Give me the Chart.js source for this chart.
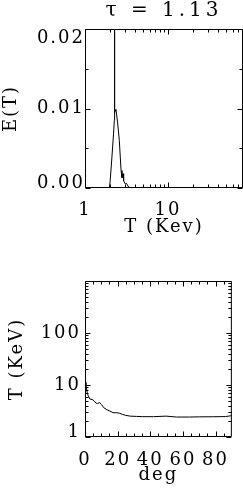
<!DOCTYPE html>
<html><head><meta charset="utf-8">
<script src="https://cdn.jsdelivr.net/npm/chart.js@4/dist/chart.umd.min.js"></script>
<style>
html,body{margin:0;padding:0;background:#fff;width:243px;height:495px;overflow:hidden}
canvas{position:absolute;left:0}
#c1{top:0}
#c2{top:248px}
</style></head>
<body>
<canvas id="c1" width="243" height="248"></canvas>
<canvas id="c2" width="243" height="247"></canvas>
<script>
// ---- top panel: E(T) vs T (keV), tau = 1.13 ----
const titleTop = 'τ = 1.13';
const energyT = [1, 1.97, 2.01, 2.11, 2.21, 2.255, 2.265, 2.28, 2.36, 2.47, 2.59, 2.66, 2.72, 2.79, 2.87, 2.92, 3.06, 3.15, 3.36, 3.72, 5, 80];
const energyE = [0, 0, 0.0009, 0.0039, 0.0069, 0.0085, 0.1, 0.0095, 0.0099, 0.0082, 0.006, 0.0039, 0.0022, 0.0013, 0.0018, 0.0009, 0.0005, 0.0006, 0.0001, 0.00003, 0, 0];
const topXMajor = [1, 10];
const topXMinor = [2,3,4,5,6,7,8,9,20,30,40,50,60,70];
const topYMajor = [0, 0.01, 0.02];
const topYMinor = [0.005, 0.015];

// ---- bottom panel: T (keV) vs deg ----
const angleDeg = [0, 0.6, 1.3, 1.9, 2.9, 4.8, 5.7, 6.7, 7.6, 9, 10.1, 11.5, 13.4, 15.3, 17.2, 19.1, 21, 23, 24.9, 27.7, 31.5, 35.4, 42, 49.7, 56, 64, 70, 78, 86, 89, 90];
const tempKeV = [11.3, 9.8, 7.3, 6.3, 5.4, 5.2, 4.9, 4.5, 4.4, 4.6, 4.2, 3.66, 3.35, 3.15, 2.93, 2.93, 2.88, 2.72, 2.61, 2.52, 2.49, 2.46, 2.46, 2.52, 2.42, 2.42, 2.44, 2.45, 2.47, 2.55, 2.6];
const botXMajor = [0, 20, 40, 60, 80];
const botXMinor = [5,10,15,25,30,35,45,50,55,65,70,75,85];
const botYMajor = [1, 10, 100, 1000];
const botYLabels = [1, 10, 100];
const botYMinor = [2,3,4,5,6,7,8,9,20,30,40,50,60,70,80,90,200,300,400,500,600,700,800,900];

const FONT = 'DejaVu Serif';
const LS = '2px';

const spacing = {
  id: 'spacing',
  afterInit(c){
    const tb = c.titleBlock;
    if (tb) {
      const orig = tb.draw.bind(tb);
      tb.draw = function(){ c.ctx.letterSpacing = '4px'; orig(); c.ctx.letterSpacing = LS; };
    }
  },
  beforeUpdate(c){ c.ctx.letterSpacing = LS; },
  beforeLayout(c){ c.ctx.letterSpacing = LS; },
  beforeDraw(c){ c.ctx.letterSpacing = LS; }
};

const frame = {
  id: 'frame',
  afterDatasetsDraw(chart, args, o){
    const {ctx, chartArea:a, scales:{x, y}} = chart;
    ctx.save();
    ctx.letterSpacing = '0px';
    ctx.strokeStyle = '#000';
    ctx.lineWidth = 1;
    const L = a.left + 0.5, R = a.right - 0.5, T = a.top + 0.5, B = a.bottom - 0.5;
    ctx.beginPath();
    ctx.rect(L, T, R - L, B - T);
    const xt = (vals, len) => vals.forEach(v => {
      const p = Math.round(x.getPixelForValue(v)) + 0.5;
      ctx.moveTo(p, B); ctx.lineTo(p, B - len);
      ctx.moveTo(p, T); ctx.lineTo(p, T + len);
    });
    const yt = (vals, len) => vals.forEach(v => {
      const p = Math.round(y.getPixelForValue(v)) + 0.5;
      ctx.moveTo(L, p); ctx.lineTo(L + len, p);
      ctx.moveTo(R, p); ctx.lineTo(R - len, p);
    });
    xt(o.xMajor, 5); xt(o.xMinor, 3);
    yt(o.yMajor, 5); yt(o.yMinor, 3);
    ctx.stroke();
    ctx.restore();
  }
};

function fixW(w){ return s => { s.width = w; }; }
function fixH(h){ return s => { s.height = h; }; }

const xTickFont = {family: FONT, size: 18, lineHeight: 1};
const yTickFont = {family: FONT, size: 18, lineHeight: 0.5};
const titleFont = {family: FONT, size: 18, lineHeight: 1};

new Chart(document.getElementById('c1'), {
  type: 'line',
  data: {
    datasets: [{
      data: energyT.map((t, i) => ({x: t, y: energyE[i]})),
      borderColor: '#000', borderWidth: 1, pointRadius: 0, tension: 0, fill: false
    }]
  },
  options: {
    responsive: false, animation: false, devicePixelRatio: 1,
    layout: {padding: {left: 0, right: 0, top: 0, bottom: 0}},
    plugins: {
      legend: {display: false}, tooltip: {enabled: false},
      title: {display: true, text: titleTop, fullSize: false, color: '#000',
        font: {family: FONT, size: 20, lineHeight: 1, weight: 'normal'}, padding: {top: 1, bottom: 8}},
      frame: {xMajor: topXMajor, xMinor: topXMinor, yMajor: topYMajor, yMinor: topYMinor}
    },
    scales: {
      x: {
        type: 'logarithmic', min: 1, max: 80,
        afterBuildTicks: s => { s.ticks = topXMajor.map(v => ({value: v})); },
        afterFit: fixH(60),
        grid: {display: false, drawTicks: false}, border: {display: false},
        ticks: {color: '#000', font: xTickFont, padding: 13, maxRotation: 0, autoSkip: false,
          callback: v => String(v)},
        title: {display: true, text: 'T (Kev)', color: '#000', font: titleFont, padding: {top: 0, bottom: 12}}
      },
      y: {
        type: 'linear', min: 0, max: 0.02,
        afterBuildTicks: s => { s.ticks = topYMajor.map(v => ({value: v})); },
        afterFit: fixW(85),
        grid: {display: false, drawTicks: false}, border: {display: false},
        ticks: {color: '#000', font: yTickFont, padding: 0, autoSkip: false,
          callback: v => {
            const t = Number(v).toFixed(2);
            if (v === 0) return [t, ''];
            if (v === 0.02) return ['', '', t];
            return t;
          }},
        title: {display: true, text: 'E(T)', color: '#000', font: titleFont, padding: {top: 2, bottom: 0}}
      }
    }
  },
  plugins: [spacing, frame]
});

new Chart(document.getElementById('c2'), {
  type: 'line',
  data: {
    datasets: [{
      data: angleDeg.map((d, i) => ({x: d, y: tempKeV[i]})),
      borderColor: '#000', borderWidth: 1, pointRadius: 0, tension: 0, fill: false
    }]
  },
  options: {
    responsive: false, animation: false, devicePixelRatio: 1,
    layout: {padding: {left: 0, right: 0, top: 33, bottom: 0}},
    plugins: {
      legend: {display: false}, tooltip: {enabled: false}, title: {display: false},
      frame: {xMajor: botXMajor, xMinor: botXMinor, yMajor: botYMajor, yMinor: botYMinor}
    },
    scales: {
      x: {
        type: 'linear', min: 0, max: 90,
        afterBuildTicks: s => { s.ticks = botXMajor.map(v => ({value: v})); },
        afterFit: fixH(58),
        grid: {display: false, drawTicks: false}, border: {display: false},
        ticks: {color: '#000', font: xTickFont, padding: 14, maxRotation: 0, autoSkip: false,
          callback: v => String(v)},
        title: {display: true, text: 'deg', color: '#000', font: titleFont, padding: {top: 0, bottom: 11}}
      },
      y: {
        type: 'logarithmic', min: 1, max: 1000,
        afterBuildTicks: s => { s.ticks = botYLabels.map(v => ({value: v})); },
        afterFit: fixW(85),
        grid: {display: false, drawTicks: false}, border: {display: false},
        ticks: {color: '#000', font: yTickFont, padding: 4, autoSkip: false,
          callback: v => (v === 1 ? ['1', ''] : String(v))},
        title: {display: true, text: 'T (KeV)', color: '#000', font: titleFont, padding: {top: 8, bottom: 0}}
      }
    }
  },
  plugins: [spacing, frame]
});
</script>
</body></html>
